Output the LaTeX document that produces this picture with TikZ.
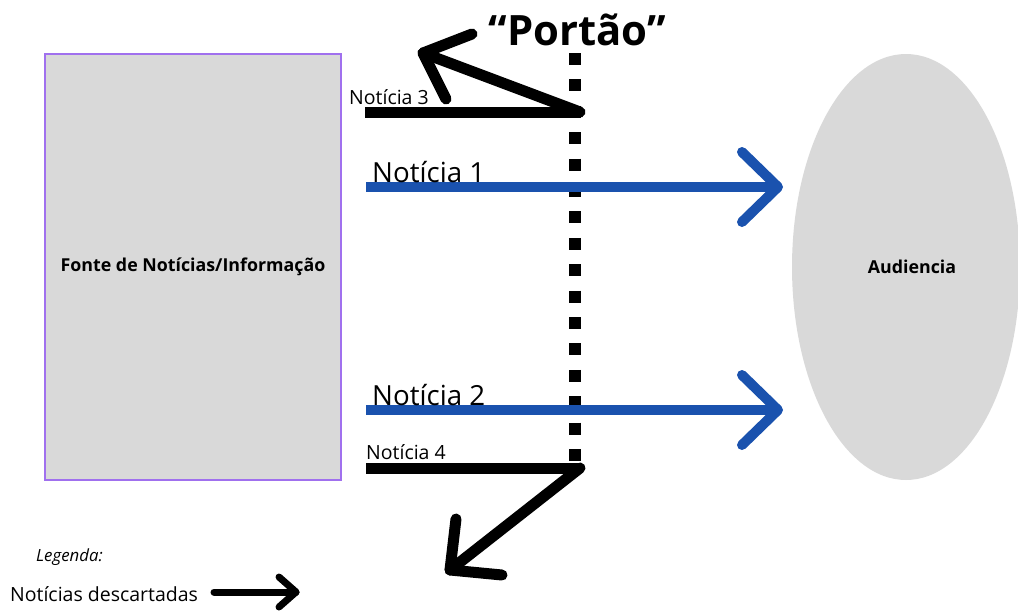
\documentclass[tikz,border=0pt]{standalone}
\usepackage{fontspec}
\setmainfont{Open Sans}
\usetikzlibrary{shapes.geometric}
\definecolor{boxgray}{HTML}{D9D9D9}
\definecolor{boxpurple}{HTML}{A070EE}
\definecolor{newsblue}{HTML}{1A52AE}
\begin{document}
\begin{tikzpicture}[x=1pt,y=-1pt,
  blk/.style={line width=11pt, black},
  blu/.style={line width=10pt, newsblue},
  tip/.style={line cap=round, line join=round},
  lbl/.style={inner sep=0pt, anchor=base west},
]
\useasboundingbox (0,0) rectangle (1018,611);
% source box
\node[draw=boxpurple, line width=1.8pt, fill=boxgray, minimum width=296pt, minimum height=426pt, inner sep=0pt] (src) at (193,267) {};
\node[font=\bfseries\fontsize{17.8}{20}\selectfont] (srct) at (src.center) {Fonte de Notícias/Informação};
% audience
\node[ellipse, fill=boxgray, minimum width=228pt, minimum height=426pt, inner sep=0pt] (aud) at (906,267) {};
\node[font=\bfseries\fontsize{17.8}{20}\selectfont] (audt) at (912,267) {Audiencia};
% gate
\coordinate (g1) at (575,53);
\coordinate (g2) at (575,475);
\draw[line width=12.5pt, dash pattern=on 12pt off 14.4pt] (g1) -- (g2);
\node[font=\bfseries\fontsize{41.8}{46}\selectfont, inner sep=0pt] (gate) at (577,30) {“Portão”};
% Noticia 3
\coordinate (n3a) at (365,112);
\coordinate (n3b) at (580,112);
\coordinate (n3t) at (423,53);
\coordinate (n3u) at (472,34);
\coordinate (n3d) at (446,99);
\draw[blk] (n3a) -- (n3b);
\draw[blk, tip] (n3b) -- (n3t);
\draw[blk, tip] (n3u) -- (n3t) -- (n3d);
\node[lbl, font=\fontsize{19.5}{22}\selectfont] (l3) at (349,104) {Notícia 3};
% Noticia 4
\coordinate (n4a) at (366,468);
\coordinate (n4b) at (580,468);
\coordinate (n4t) at (450,570);
\coordinate (n4u) at (456,519);
\coordinate (n4d) at (502,575);
\draw[blk] (n4a) -- (n4b);
\draw[blk, tip] (n4b) -- (n4t);
\draw[blk, tip] (n4u) -- (n4t) -- (n4d);
\node[lbl, font=\fontsize{19.5}{22}\selectfont] (l4) at (366,459) {Notícia 4};
% Noticia 1
\coordinate (n1a) at (366,187);
\coordinate (n1t) at (778,187);
\coordinate (n1u) at (742,152);
\coordinate (n1d) at (742,222);
\draw[blu] (n1a) -- (n1t);
\draw[blu, tip] (n1u) -- (n1t) -- (n1d);
\node[lbl, font=\fontsize{27.7}{31}\selectfont] (l1) at (372,182) {Notícia 1};
% Noticia 2
\coordinate (n2a) at (366,410);
\coordinate (n2t) at (778,410);
\coordinate (n2u) at (742,375);
\coordinate (n2d) at (742,445);
\draw[blu] (n2a) -- (n2t);
\draw[blu, tip] (n2u) -- (n2t) -- (n2d);
\node[lbl, font=\fontsize{27.7}{31}\selectfont] (l2) at (372,405) {Notícia 2};
% legend
\node[lbl, font=\itshape\fontsize{16.8}{19}\selectfont] (leg) at (36,561) {Legenda:};
\node[lbl, font=\fontsize{19.5}{22}\selectfont] (legt) at (10,601) {Notícias descartadas};
\coordinate (la) at (214,592);
\coordinate (lt) at (296,592);
\coordinate (lu) at (279,577);
\coordinate (ld) at (279,607);
\draw[line width=7pt, line cap=round] (la) -- (lt);
\draw[line width=7pt, tip] (lu) -- (lt) -- (ld);
\end{tikzpicture}
\end{document}
